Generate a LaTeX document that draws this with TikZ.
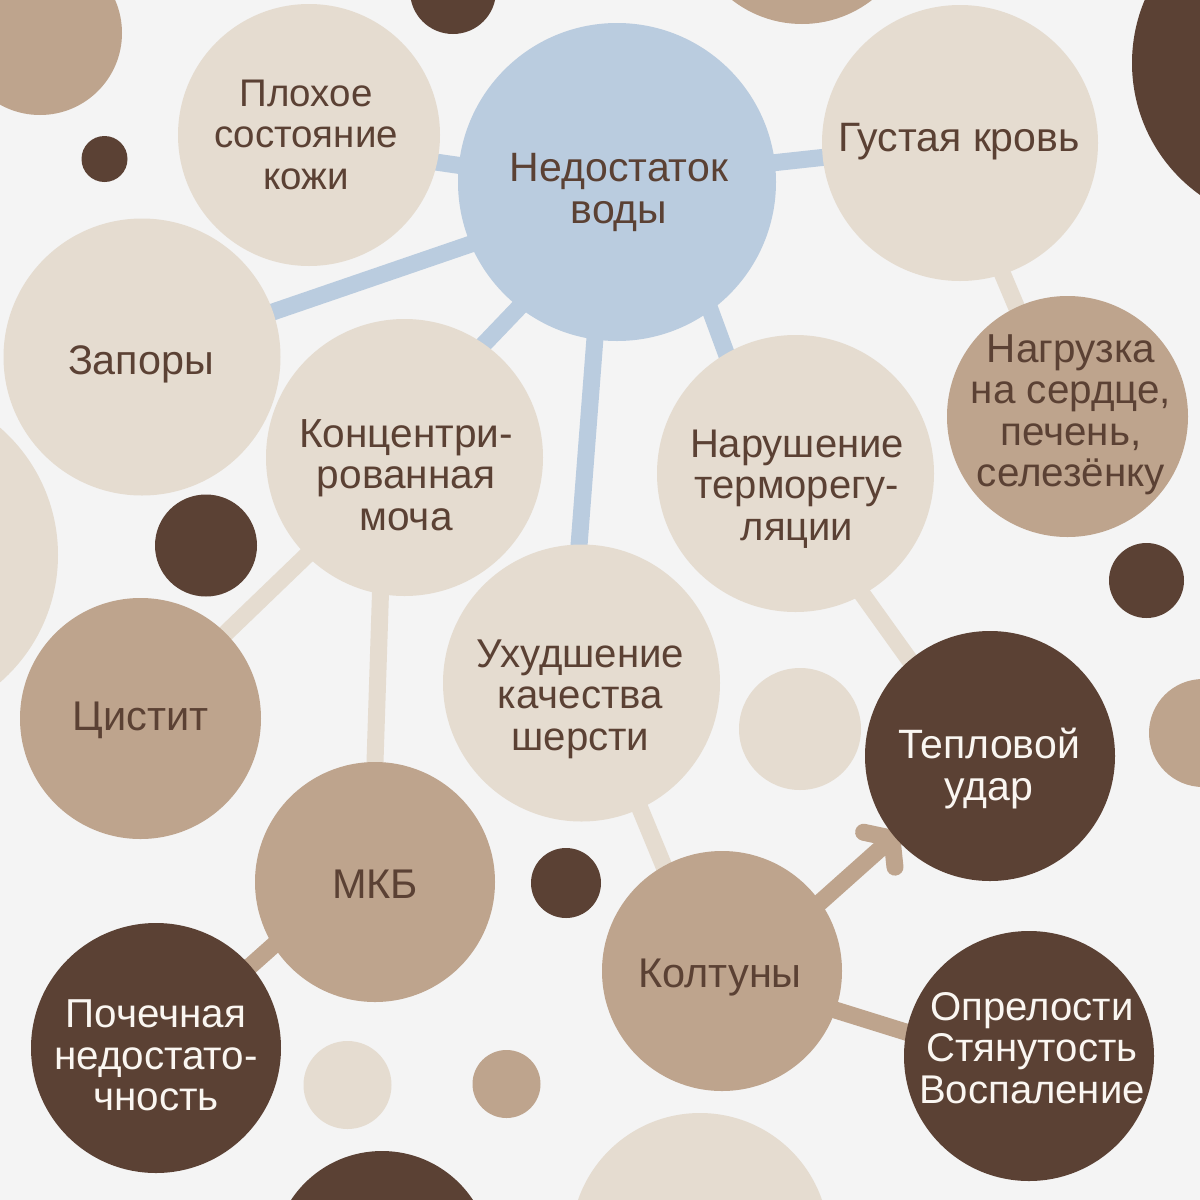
\documentclass[tikz,border=0pt]{standalone}
\usepackage{fontspec}
\setmainfont{Liberation Sans}
\usetikzlibrary{calc}
\pgfdeclarelayer{bg}
\pgfdeclarelayer{lines}
\pgfsetlayers{bg,lines,main}
\definecolor{bgc}{HTML}{F4F4F4}
\definecolor{lightc}{HTML}{E5DCD0}
\definecolor{tanc}{HTML}{BEA48D}
\definecolor{darkc}{HTML}{5B4134}
\definecolor{bluec}{HTML}{BACCDF}
\definecolor{txtd}{HTML}{5B4134}
\definecolor{txtw}{HTML}{FAF6F1}
\newcommand\fsz[1]{\fontsize{#1pt}{41.5pt}\selectfont}
\begin{document}
\begin{tikzpicture}[x=1pt,y=-1pt,
  circ/.style={circle,inner sep=0pt,outer sep=0pt},
  conn/.style={line width=17pt,shorten <=-14pt,shorten >=-14pt},
  txt/.style={align=center,text=txtd,inner sep=0pt,anchor=base},
  wtxt/.style={txt,text=txtw}]
\useasboundingbox (0,0) rectangle (1200,1200);
\begin{pgfonlayer}{bg}
\fill[bgc] (0,0) rectangle (1200,1200);
\end{pgfonlayer}

% decorative circles
\fill[tanc] (40,33) circle (82pt);
\fill[darkc] (453,-9) circle (43pt);
\fill[darkc] (104.5,159) circle (23pt);
\fill[tanc] (802,-90) circle (114pt);
\fill[darkc] (1294,63) circle (162pt);
\fill[lightc] (-111,555) circle (169pt);
\fill[darkc] (206,545.5) circle (51pt);
\fill[darkc] (1146.5,580.5) circle (37.5pt);
\fill[lightc] (800,729) circle (61pt);
\fill[tanc] (1203,733) circle (54pt);
\fill[darkc] (566,883) circle (35pt);
\fill[lightc] (347.5,1085) circle (44pt);
\fill[tanc] (506.5,1084) circle (34pt);
\fill[darkc] (382,1260) circle (109pt);
\fill[lightc] (700,1242) circle (129pt);

% main circles
\node[circ,minimum size=262pt,fill=lightc] (plohoe) at (309,135) {};
\node[circ,minimum size=318pt,fill=bluec] (nedost) at (617,182) {};
\node[circ,minimum size=276pt,fill=lightc] (gustaya) at (960,143) {};
\node[circ,minimum size=277pt,fill=lightc] (zapory) at (142,357) {};
\node[circ,minimum size=277pt,fill=lightc] (konc) at (404.5,457.5) {};
\node[circ,minimum size=277pt,fill=lightc] (narush) at (795.5,473.5) {};
\node[circ,minimum size=241pt,fill=tanc] (nagruz) at (1067.5,416.5) {};
\node[circ,minimum size=277pt,fill=lightc] (uhud) at (581.5,683) {};
\node[circ,minimum size=241pt,fill=tanc] (cystit) at (140.5,718.5) {};
\node[circ,minimum size=240pt,fill=tanc] (mkb) at (375,882) {};
\node[circ,minimum size=250pt,fill=darkc] (teplo) at (990,756) {};
\node[circ,minimum size=240pt,fill=tanc] (kolt) at (722,971) {};
\node[circ,minimum size=250pt,fill=darkc] (pochech) at (156,1048) {};
\node[circ,minimum size=250pt,fill=darkc] (opr) at (1029,1056) {};

% connectors
\begin{pgfonlayer}{lines}
\draw[conn,bluec] (plohoe.-12) -- (nedost.174);
\draw[conn,bluec] (nedost.7) -- (gustaya.186);
\draw[conn,bluec] (zapory.19) -- (nedost.203);
\draw[conn,bluec] (konc.55) -- (nedost.232);
\draw[conn,bluec] (nedost.262) -- (uhud.91);
\draw[conn,bluec] (nedost.-54) -- (narush.120);
\draw[conn,lightc] (gustaya.-72) -- (nagruz.115);
\draw[conn,lightc] (konc.225) -- (cystit.45);
\draw[conn,lightc] (konc.260) -- (mkb.90);
\draw[conn,lightc] (narush.-61) -- (teplo.130);
\draw[conn,lightc] (uhud.-65) -- (kolt.119);
\draw[conn,tanc] (mkb.212) -- (pochech.41);
\draw[conn,tanc] (kolt.-19) -- (opr.169);
\coordinate (tip) at ($(teplo.220)+(220:3pt)$);
\draw[tanc,line width=17pt,shorten <=-14pt] (kolt.35) -- (tip);
\draw[tanc,line width=17pt,line cap=round,line join=round]
  ($(tip)+(168:29pt)$) -- (tip) -- ($(tip)+(276:29pt)$);
\end{pgfonlayer}

% texts (anchor=base is the baseline of the last line)
\node[txt,font=\fsz{38.5}] (plohoe-t) at (306,189) {Плохое\\состояние\\кожи};
\node[txt,font=\fsz{41}] (nedost-t) at (619,223) {Недостаток\\воды};
\node[txt,font=\fsz{41}] (gustaya-t) at (959,151.7) {Густая кровь};
\node[txt,font=\fsz{41.3}] (zapory-t) at (141,374) {Запоры};
\node[txt,font=\fsz{40.6}] (konc-t) at (406,530) {Концентри-\\рованная\\моча};
\node[txt,font=\fsz{40}] (narush-t) at (797,540) {Нарушение\\терморегу-\\ляции};
\node[txt,font=\fsz{40.4}] (nagruz-t) at (1071,486.7) {Нагрузка\\на сердце,\\печень,\\селезёнку};
\node[txt,font=\fsz{40.2}] (uhud-t) at (580.5,750) {Ухудшение\\качества\\шерсти};
\node[txt,font=\fsz{41.5}] (cystit-t) at (140.7,730.7) {Цистит};
\node[txt,font=\fsz{41.5}] (mkb-t) at (375,898) {МКБ};
\node[wtxt,font=\fsz{41}] (teplo-t) at (989,800) {Тепловой\\удар};
\node[txt,font=\fsz{41.5}] (kolt-t) at (720,987) {Колтуны};
\node[wtxt,font=\fsz{40.4}] (pochech-t) at (156,1110.7) {Почечная\\недостато-\\чность};
\node[wtxt,font=\fsz{40.1}] (opr-t) at (1032,1103.3) {Опрелости\\Стянутость\\Воспаление};
\end{tikzpicture}
\end{document}
